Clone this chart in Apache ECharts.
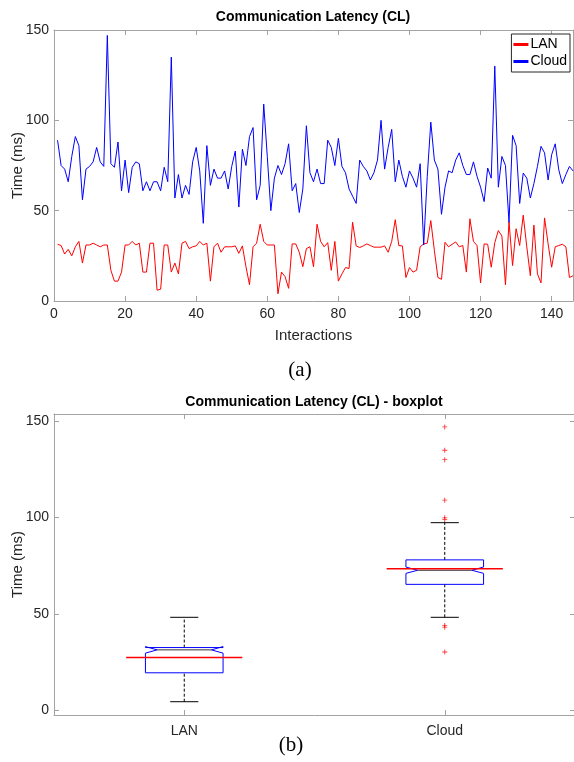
<!DOCTYPE html>
<html>
<head>
<meta charset="utf-8">
<script src="https://cdn.jsdelivr.net/npm/echarts@6/dist/echarts.min.js"></script>
<style>
  html, body { margin: 0; padding: 0; background: #fff; }
  #chart { width: 574px; height: 762px; }
</style>
</head>
<body>
<div id="chart"></div>
<script>
// Per-interaction communication latency (ms), interactions 1..146
const lanLatency = [
  31.4, 30.7, 26, 28.6, 25, 30, 33, 21, 31, 31,
  32, 31, 30, 31, 31, 17, 11, 11, 16, 31,
  31, 33, 31, 32, 16, 16, 32, 32, 6, 6.5,
  31, 31, 16, 21, 15, 32, 33, 29, 30, 30.5,
  33, 31, 32, 11, 30, 32, 27, 30, 30, 30,
  30.5, 26.4, 30.5, 19, 9, 30, 32, 42.5, 33, 31,
  31, 31, 4, 16, 13.5, 7, 31.6, 31.6, 27, 19,
  29, 30, 19, 42.5, 33, 30, 32.3, 17, 33, 11,
  15, 18.5, 18, 43.6, 30.5, 29.6, 30.5, 31.6, 30.7, 29.8,
  29.8, 29.8, 30.5, 27, 33, 45, 30.7, 30.5, 13, 18.5,
  16, 17, 30, 31.6, 32, 44.5, 28, 13, 12, 32.5,
  30, 31.4, 32.7, 30, 30.7, 16, 45.5, 33, 30.7, 10,
  31.6, 31.4, 18.7, 32.3, 39, 36, 9, 44, 19.6, 40,
  30.7, 47.5, 30, 14, 42, 15, 10, 46, 31.6, 18.7,
  30, 30.7, 31.4, 30, 13, 14
];
const cloudLatency = [
  89, 75, 73, 66, 80, 91, 86, 56, 73, 74.5,
  77, 85, 77, 74.5, 147, 76, 74, 88, 61, 78,
  60, 74, 77, 76, 61, 66, 61, 66, 66, 61,
  74, 66, 135, 57, 70, 57, 64, 59, 77, 85,
  72, 43, 86, 64, 73, 68, 68, 72, 62, 74.5,
  83, 52, 84, 75, 91, 96, 56, 64, 109, 80,
  50, 68, 75, 70, 76, 87, 61, 65, 49, 62,
  97, 71, 66, 73, 65, 65, 89, 85, 75, 90,
  74.5, 71, 62, 58, 54, 78, 74.5, 72, 67, 71,
  78, 100, 73, 85, 95, 66, 78, 69, 63, 72,
  68, 63, 76, 31, 69, 99, 78, 73, 48, 63,
  72, 71, 78, 82, 75, 70, 70, 77, 69, 63,
  55, 73.6, 68, 130, 63, 80, 75, 43.6, 91.7, 86,
  54, 70.8, 68, 57, 65, 74.5, 85.6, 82, 67, 81,
  87, 72.6, 65, 70, 74.5, 72
];
const interactionTicks = [0, 20, 40, 60, 80, 100, 120, 140];
const latencyTicks = [0, 50, 100, 150];

// Boxplot summary per network: [lower whisker, Q1, median, Q3, upper whisker]
const boxCategories = ['LAN', 'Cloud'];
const boxStats = [
  [4.4, 19.4, 31.3, 32.5, 48.2],
  [48.2, 65.3, 72.6, 78.0, 97.3]
];
const notchLow = [29.6, 71.0];
const notchHigh = [33.0, 74.3];
const meanLatency = [27.4, 73.4];
const cloudOutliers = [147, 134.9, 130, 109, 99.8, 99, 44, 43.1, 30.2];

const sans = '"Liberation Sans", Arial, Helvetica, sans-serif';
const serif = '"Liberation Serif", "Times New Roman", serif';
const axisGray = '#a3a3a3';
const labelGray = '#262626';

function frameAxis(extra) {
  return Object.assign({
    type: 'value',
    axisLine: { show: true, onZero: false, lineStyle: { color: axisGray, width: 1 } },
    axisTick: { show: true, inside: true, length: 5, lineStyle: { color: axisGray } },
    axisLabel: { show: false },
    splitLine: { show: false }
  }, extra);
}

const lanPoints = lanLatency.map((v, i) => [i + 1, v]);
const cloudPoints = cloudLatency.map((v, i) => [i + 1, v]);
const boxItems = boxStats.map((s, i) => [i + 1].concat(s, [notchLow[i], notchHigh[i], meanLatency[i]]));
const outlierPoints = cloudOutliers.map(v => [2, v]);

const BOX_HALF = 0.149;
const NOTCH_DEPTH = 0.3 * BOX_HALF;
const CAP_HALF = 0.054;
const MEAN_HALF = 0.223;

function renderBox(params, api) {
  const x = api.value(0);
  const lo = api.value(1), q1 = api.value(2), med = api.value(3), q3 = api.value(4), hi = api.value(5);
  const nLo = api.value(6), nHi = api.value(7), mean = api.value(8);
  const c = (dx, y) => api.coord([x + dx, y]);
  const w = BOX_HALF, d = NOTCH_DEPTH;
  const outline = [
    c(-w, q1), c(-w, nLo), c(-w + d, med), c(-w, nHi), c(-w, q3),
    c(w, q3), c(w, nHi), c(w - d, med), c(w, nLo), c(w, q1)
  ];
  const seg = (a, b, style) => ({
    type: 'line',
    shape: { x1: a[0], y1: a[1], x2: b[0], y2: b[1] },
    style: style
  });
  const black = { stroke: '#000', lineWidth: 1 };
  const dashed = { stroke: '#000', lineWidth: 1, lineDash: [3, 2] };
  return {
    type: 'group',
    children: [
      seg(c(0, q3), c(0, hi), dashed),
      seg(c(0, lo), c(0, q1), dashed),
      seg(c(-CAP_HALF, hi), c(CAP_HALF, hi), black),
      seg(c(-CAP_HALF, lo), c(CAP_HALF, lo), black),
      { type: 'polygon', shape: { points: outline }, style: { fill: 'none', stroke: '#0000ff', lineWidth: 1 } },
      seg(c(-w + d, med), c(w - d, med), { stroke: '#333', lineWidth: 1 }),
      seg(c(-MEAN_HALF, mean), c(MEAN_HALF, mean), { stroke: '#ff0000', lineWidth: 1.5 })
    ]
  };
}

const chart = echarts.init(document.getElementById('chart'), null, { renderer: 'canvas' });

chart.setOption({
  backgroundColor: '#fff',
  animation: false,
  textStyle: { fontFamily: sans },
  grid: [
    { left: 54, top: 30, width: 519, height: 271, outerBoundsMode: 'none', containLabel: false },
    { left: 54, top: 414, width: 521, height: 301, outerBoundsMode: 'none', containLabel: false }
  ],
  xAxis: [
    frameAxis({
      gridIndex: 0, position: 'bottom', min: 0, max: 146,
      axisTick: { show: true, inside: true, length: 5, customValues: interactionTicks, lineStyle: { color: axisGray } },
      axisLabel: { show: true, customValues: interactionTicks, color: labelGray, fontSize: 14, margin: 6, fontFamily: sans },
      name: 'Interactions', nameLocation: 'middle', nameGap: 27, nameMoveOverlap: false,
      nameTextStyle: { fontSize: 15, color: labelGray, fontFamily: sans }
    }),
    frameAxis({
      gridIndex: 0, position: 'top', min: 0, max: 146,
      axisTick: { show: true, inside: true, length: 5, customValues: interactionTicks, lineStyle: { color: axisGray } }
    }),
    frameAxis({
      gridIndex: 1, position: 'bottom', min: 0.5, max: 2.5,
      axisTick: { show: true, inside: true, length: 5, customValues: [1, 2], lineStyle: { color: axisGray } },
      axisLabel: {
        show: true, customValues: [1, 2], color: labelGray, fontSize: 14, margin: 9, fontFamily: sans,
        formatter: v => boxCategories[Math.round(v) - 1]
      }
    }),
    frameAxis({
      gridIndex: 1, position: 'top', min: 0.5, max: 2.5,
      axisTick: { show: true, inside: true, length: 5, customValues: [1, 2], lineStyle: { color: axisGray } }
    })
  ],
  yAxis: [
    frameAxis({
      gridIndex: 0, position: 'left', min: 0, max: 150,
      axisTick: { show: true, inside: true, length: 5, customValues: latencyTicks, lineStyle: { color: axisGray } },
      axisLabel: { show: true, customValues: latencyTicks, color: labelGray, fontSize: 14, margin: 5, fontFamily: sans },
      name: 'Time (ms)', nameLocation: 'middle', nameGap: 29, nameRotate: 90, nameMoveOverlap: false,
      nameTextStyle: { fontSize: 15, color: labelGray, fontFamily: sans }
    }),
    frameAxis({
      gridIndex: 0, position: 'right', min: 0, max: 150,
      axisTick: { show: true, inside: true, length: 5, customValues: latencyTicks, lineStyle: { color: axisGray } }
    }),
    frameAxis({
      gridIndex: 1, position: 'left', min: -2.5, max: 153.7,
      axisTick: { show: true, inside: true, length: 5, customValues: latencyTicks, lineStyle: { color: axisGray } },
      axisLabel: { show: true, customValues: latencyTicks, color: labelGray, fontSize: 14, margin: 5, fontFamily: sans },
      name: 'Time (ms)', nameLocation: 'middle', nameGap: 29, nameRotate: 90, nameMoveOverlap: false,
      nameTextStyle: { fontSize: 15, color: labelGray, fontFamily: sans }
    }),
    frameAxis({
      gridIndex: 1, position: 'right', min: -2.5, max: 153.7,
      axisTick: { show: true, inside: true, length: 5, customValues: latencyTicks, lineStyle: { color: axisGray } }
    })
  ],
  legend: {
    data: ['LAN', 'Cloud'],
    orient: 'vertical',
    right: 4,
    top: 34,
    icon: 'rect',
    itemWidth: 15,
    itemHeight: 3,
    itemGap: 2,
    padding: [3, 3, 3, 2],
    borderColor: '#262626',
    borderWidth: 1,
    backgroundColor: '#fff',
    textStyle: { fontSize: 14, color: '#000', fontFamily: sans, padding: [0, 0, 0, -3], lineHeight: 15 }
  },
  graphic: [
    { type: 'text', x: 313, y: 17, style: { text: 'Communication Latency (CL)', font: 'bold 14px ' + sans, fill: '#000', align: 'center', verticalAlign: 'middle' } },
    { type: 'text', x: 314, y: 402, style: { text: 'Communication Latency (CL) - boxplot', font: 'bold 14px ' + sans, fill: '#000', align: 'center', verticalAlign: 'middle' } },
    { type: 'text', x: 300, y: 370, style: { text: '(a)', font: '21px ' + serif, fill: '#000', align: 'center', verticalAlign: 'middle' } },
    { type: 'text', x: 291, y: 745, style: { text: '(b)', font: '21px ' + serif, fill: '#000', align: 'center', verticalAlign: 'middle' } }
  ],
  series: [
    {
      name: 'LAN', type: 'line', xAxisIndex: 0, yAxisIndex: 0,
      data: lanPoints, showSymbol: false, symbol: 'none',
      lineStyle: { color: '#ff0000', width: 1 }, itemStyle: { color: '#ff0000' }
    },
    {
      name: 'Cloud', type: 'line', xAxisIndex: 0, yAxisIndex: 0,
      data: cloudPoints, showSymbol: false, symbol: 'none',
      lineStyle: { color: '#0000ff', width: 1 }, itemStyle: { color: '#0000ff' }
    },
    {
      name: 'boxes', type: 'custom', xAxisIndex: 2, yAxisIndex: 2,
      renderItem: renderBox, data: boxItems, encode: { x: 0, y: [1, 2, 3, 4, 5] }
    },
    {
      name: 'outliers', type: 'scatter', xAxisIndex: 2, yAxisIndex: 2,
      data: outlierPoints,
      symbol: 'path://M-1,-0.18L1,-0.18L1,0.18L-1,0.18Z M-0.18,-1L0.18,-1L0.18,1L-0.18,1Z',
      symbolSize: 5, itemStyle: { color: '#ff0000' }
    }
  ]
});
</script>
</body>
</html>
